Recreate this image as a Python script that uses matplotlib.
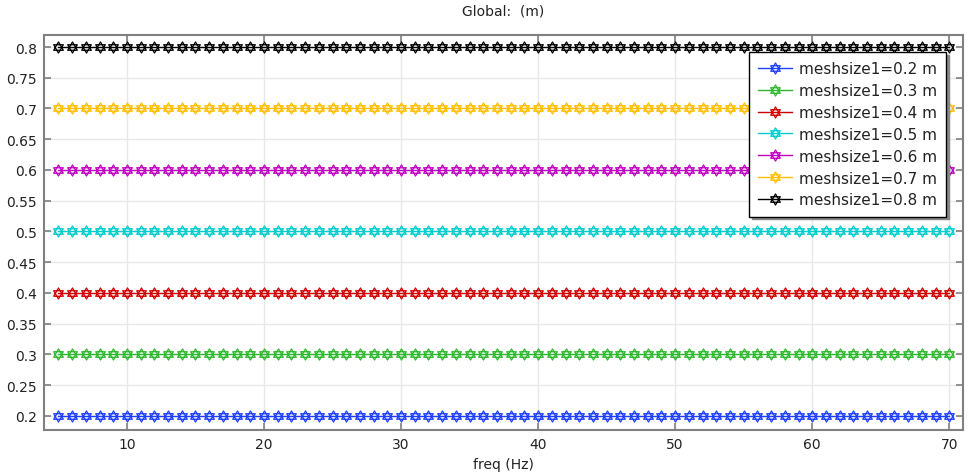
import numpy as np
import matplotlib
matplotlib.use("Agg")
import matplotlib.pyplot as plt
from matplotlib.path import Path
from matplotlib.ticker import FormatStrFormatter, MultipleLocator

# parameter sweep (Hz) and results per mesh size
freq = list(range(5, 71))
mesh_sizes = [0.2, 0.3, 0.4, 0.5, 0.6, 0.7, 0.8]
global_vals = {
    0.2: [0.2] * len(freq),
    0.3: [0.3] * len(freq),
    0.4: [0.4] * len(freq),
    0.5: [0.5] * len(freq),
    0.6: [0.6] * len(freq),
    0.7: [0.7] * len(freq),
    0.8: [0.8] * len(freq),
}
colors = ['#1f3fff', '#2db82d', '#d00000', '#00cccc', '#c000c0', '#ffbf00', '#000000']


def hexagram():
    """Star of David marker built from two triangles"""
    up = [(np.cos(np.radians(a)), np.sin(np.radians(a))) for a in (90, 210, 330)]
    down = [(np.cos(np.radians(a)), np.sin(np.radians(a))) for a in (270, 30, 150)]
    verts = up + [up[0]] + down + [down[0]]
    codes = [Path.MOVETO, Path.LINETO, Path.LINETO, Path.CLOSEPOLY] * 2
    return Path(verts, codes)


star = hexagram()

fig = plt.figure(figsize=(9.74, 4.77), dpi=100)
ax = fig.add_axes([0.0452, 0.0964, 0.9435, 0.8281])

for m, c in zip(mesh_sizes, colors):
    ax.plot(freq, global_vals[m], color=c, lw=1.0, marker=star, markersize=8,
            markerfacecolor='none', markeredgecolor=c, markeredgewidth=0.9,
            label=f'meshsize1={m} m')

ax.set_xlim(3.95, 71.0)
ax.set_ylim(0.177, 0.8195)
ax.xaxis.set_major_locator(MultipleLocator(10))
ax.yaxis.set_major_locator(MultipleLocator(0.05))
ax.yaxis.set_major_formatter(FormatStrFormatter('%g'))

ax.grid(True, color='#e8e8e8', lw=1.0)
ax.set_axisbelow(True)
for s in ax.spines.values():
    s.set_color('#808080')
    s.set_linewidth(1.5)
ax.tick_params(direction='in', length=5, width=1.2, color='#808080', pad=5,
               top=True, right=True, labelsize=10, labelcolor='#222222')

ax.set_xlabel('freq (Hz)', fontsize=10, color='#222222', labelpad=4)
ax.set_title('Global:  (m)', fontsize=10, color='#222222', pad=15)

leg = ax.legend(loc='upper right', bbox_to_anchor=(0.9815, 0.957), borderaxespad=0,
                fancybox=False, shadow={'color': '#888888', 'alpha': 1.0},
                framealpha=1, edgecolor='black',
                prop={'size': 11}, handlelength=2.2, handletextpad=0.45,
                labelspacing=0.45, borderpad=0.6)
leg.get_frame().set_linewidth(1.0)
for t in leg.get_texts():
    t.set_color('#222222')

fig.savefig('out.png', dpi=100)
